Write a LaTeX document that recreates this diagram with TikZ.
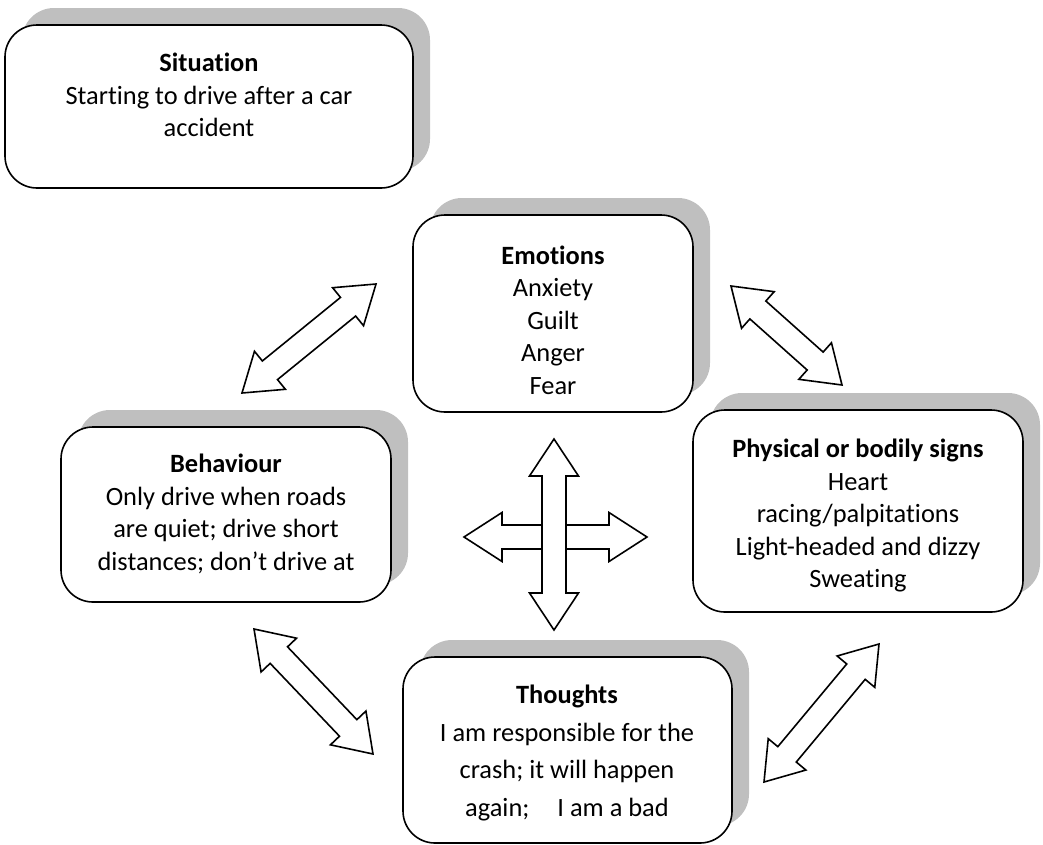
\documentclass[tikz,border=0pt]{standalone}
\usepackage{fontspec}
\setmainfont[Ligatures={NoCommon,NoContextual}]{Carlito}
\usetikzlibrary{calc,shadows}
\definecolor{shadowgray}{HTML}{BFBFBF}
\tikzset{
  card/.style={draw=black, fill=white, line width=1.6pt, rounded corners=32pt,
    general shadow={fill=shadowgray, shadow xshift=17pt, shadow yshift=17pt}},
  cardtext/.style={align=center, inner sep=0pt, font=\fontsize{26.4pt}{32.5pt}\selectfont},
  loosetext/.style={cardtext, font=\fontsize{26.4pt}{37.5pt}\selectfont},
  hollow arrow/.style={draw=black, fill=white, line width=1.6pt, line join=miter},
}
% outlined two-headed block arrow between two named points
\newcommand\twowayarrow[3][36pt]{%
  \path (#2) coordinate (tw-a) (#3) coordinate (tw-b)
    ($(tw-a)!#1!(tw-b)$) coordinate (tw-ha)
    ($(tw-b)!#1!(tw-a)$) coordinate (tw-hb);
  \draw[hollow arrow] (tw-a)
    -- ($(tw-ha)!24.5pt!90:(tw-b)$)
    -- ($(tw-ha)!12pt!90:(tw-b)$)
    -- ($(tw-hb)!12pt!-90:(tw-a)$)
    -- ($(tw-hb)!24.5pt!-90:(tw-a)$)
    -- (tw-b)
    -- ($(tw-hb)!24.5pt!90:(tw-a)$)
    -- ($(tw-hb)!12pt!90:(tw-a)$)
    -- ($(tw-ha)!12pt!-90:(tw-b)$)
    -- ($(tw-ha)!24.5pt!-90:(tw-b)$)
    -- cycle;}
\begin{document}
\begin{tikzpicture}[x=1pt,y=-1pt]
\useasboundingbox (0,0) rectangle (1043,844);

% cards
\node[card, minimum width=408pt, minimum height=163pt] (sit) at (209,106.5) {};
\node[card, minimum width=280pt, minimum height=197pt] (emo) at (553,313.5) {};
\node[card, minimum width=330pt, minimum height=202pt] (phy) at (858,511) {};
\node[card, minimum width=330pt, minimum height=175pt] (beh) at (226,514.5) {};
\node[card, minimum width=329pt, minimum height=186pt] (tho) at (567.5,750) {};

% card texts
\node[cardtext] (sit-txt) at (209,95) {\textbf{Situation}\\Starting to drive after a car\\accident};
\node[cardtext] (emo-txt) at (553,320) {\textbf{Emotions}\\Anxiety\\Guilt\\Anger\\Fear};
\node[cardtext] (phy-txt) at (858,515.5) {\textbf{Physical or bodily signs}\\Heart\\racing/palpitations\\Light-headed and dizzy\\Sweating};
\node[cardtext] (beh-txt) at (226,514) {\textbf{Behaviour}\\Only drive when roads\\are quiet; drive short\\distances; don’t drive at};
\node[loosetext] (tho-txt) at (567,753) {\textbf{Thoughts}\\I am responsible for the\\crash; it will happen\\again;\hspace{28pt}I am a bad};

% arrow end points
\coordinate (be-1) at (242,393);
\coordinate (be-2) at (376,284);
\coordinate (ep-1) at (731,286);
\coordinate (ep-2) at (842,385);
\coordinate (bt-1) at (254,629);
\coordinate (bt-2) at (373,754);
\coordinate (tp-1) at (879,644);
\coordinate (tp-2) at (764,782);
\coordinate (cx-w) at (464,537);
\coordinate (cx-e) at (647,537);
\coordinate (cx-n) at (554,439);
\coordinate (cx-s) at (554,630);

% links between the cards
\twowayarrow{be-1}{be-2}
\twowayarrow{ep-1}{ep-2}
\twowayarrow{bt-1}{bt-2}
\twowayarrow{tp-1}{tp-2}

% central cross
\twowayarrow[38pt]{cx-w}{cx-e}
\twowayarrow[37pt]{cx-n}{cx-s}
\end{tikzpicture}
\end{document}
